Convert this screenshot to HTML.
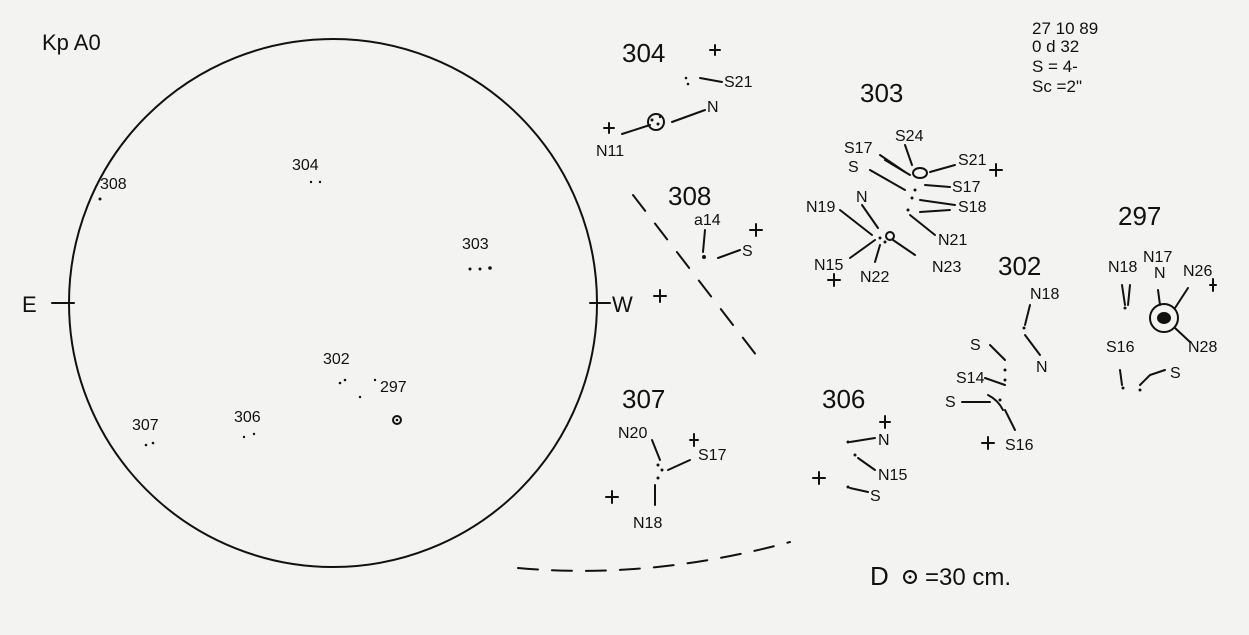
<!DOCTYPE html>
<html><head><meta charset="utf-8"><style>
html,body{margin:0;padding:0;background:#f3f3f1;}
svg{display:block}
text{font-family:"Liberation Sans",sans-serif;fill:#111;}
</style></head><body>
<svg width="1249" height="635" viewBox="0 0 1249 635" xmlns="http://www.w3.org/2000/svg">
<rect width="1249" height="635" fill="#f3f3f1"/>
<g stroke="#111" stroke-width="2" fill="none" stroke-linecap="round">
<circle cx="333" cy="303" r="264"/>
<line x1="52" y1="303" x2="74" y2="303"/>
<line x1="590" y1="303" x2="610" y2="303"/>
<path d="M633 195 L760 360" stroke-dasharray="20 16"/>
<path d="M518 568 Q650 580 790 542" stroke-dasharray="20 14"/>
<!-- 304 -->
<line x1="700" y1="78" x2="722" y2="82"/>
<line x1="672" y1="122" x2="705" y2="110"/>
<circle cx="656" cy="122" r="8"/>
<line x1="622" y1="134" x2="650" y2="125"/>
<line x1="710" y1="50" x2="720" y2="50"/><line x1="715" y1="45" x2="715" y2="55"/>
<line x1="604" y1="128" x2="614" y2="128"/><line x1="609" y1="123" x2="609" y2="133"/>
<!-- 308 -->
<line x1="705" y1="230" x2="703" y2="252"/>
<line x1="718" y1="258" x2="740" y2="250"/>
<line x1="750" y1="230" x2="762" y2="230"/><line x1="756" y1="224" x2="756" y2="236"/>
<line x1="654" y1="296" x2="666" y2="296"/><line x1="660" y1="290" x2="660" y2="302"/>
<!-- 303 -->
<line x1="880" y1="155" x2="905" y2="172"/>
<line x1="885" y1="160" x2="910" y2="175"/>
<line x1="905" y1="145" x2="912" y2="165"/>
<ellipse cx="920" cy="173" rx="7" ry="5"/>
<line x1="870" y1="170" x2="905" y2="190"/>
<line x1="930" y1="172" x2="955" y2="165"/>
<line x1="925" y1="185" x2="950" y2="187"/>
<line x1="920" y1="200" x2="955" y2="205"/>
<line x1="920" y1="212" x2="950" y2="210"/>
<line x1="910" y1="215" x2="935" y2="235"/>
<line x1="840" y1="210" x2="872" y2="235"/>
<line x1="862" y1="205" x2="878" y2="228"/>
<line x1="850" y1="258" x2="875" y2="240"/>
<line x1="875" y1="262" x2="880" y2="245"/>
<line x1="893" y1="240" x2="915" y2="255"/>
<circle cx="890" cy="236" r="4"/>
<line x1="990" y1="170" x2="1002" y2="170"/><line x1="996" y1="164" x2="996" y2="176"/>
<line x1="828" y1="280" x2="840" y2="280"/><line x1="834" y1="274" x2="834" y2="286"/>
<!-- 302 -->
<line x1="1030" y1="305" x2="1025" y2="325"/>
<line x1="1025" y1="335" x2="1040" y2="355"/>
<line x1="990" y1="345" x2="1005" y2="360"/>
<line x1="985" y1="378" x2="1005" y2="385"/>
<line x1="962" y1="402" x2="990" y2="402"/>
<path d="M988 395 Q998 400 1003 410"/>
<line x1="1005" y1="410" x2="1015" y2="430"/>
<line x1="982" y1="443" x2="994" y2="443"/><line x1="988" y1="437" x2="988" y2="449"/>
<!-- 297 -->
<line x1="1122" y1="285" x2="1125" y2="305"/>
<line x1="1130" y1="285" x2="1128" y2="305"/>
<line x1="1158" y1="290" x2="1160" y2="305"/>
<line x1="1188" y1="288" x2="1175" y2="308"/>
<circle cx="1164" cy="318" r="14"/>
<ellipse cx="1164" cy="318" rx="6" ry="5" fill="#111"/>
<line x1="1175" y1="328" x2="1190" y2="342"/>
<line x1="1210" y1="285" x2="1216" y2="285"/><line x1="1213" y1="279" x2="1213" y2="291"/>
<line x1="1120" y1="370" x2="1122" y2="385"/>
<path d="M1140 385 L1150 375 L1165 370"/>
<!-- 307 -->
<line x1="652" y1="440" x2="660" y2="460"/>
<line x1="668" y1="470" x2="690" y2="460"/>
<line x1="655" y1="485" x2="655" y2="505"/>
<line x1="690" y1="440" x2="698" y2="440"/><line x1="694" y1="434" x2="694" y2="446"/>
<line x1="606" y1="497" x2="618" y2="497"/><line x1="612" y1="491" x2="612" y2="503"/>
<!-- 306 -->
<line x1="850" y1="442" x2="875" y2="438"/>
<line x1="858" y1="458" x2="875" y2="470"/>
<line x1="850" y1="488" x2="868" y2="492"/>
<line x1="880" y1="422" x2="890" y2="422"/><line x1="885" y1="416" x2="885" y2="428"/>
<line x1="813" y1="478" x2="825" y2="478"/><line x1="819" y1="472" x2="819" y2="484"/>
<circle cx="910" cy="577" r="6"/>
<circle cx="397" cy="420" r="4"/>
</g>
<g fill="#111">
<circle cx="100" cy="199" r="1.5"/><circle cx="311" cy="182" r="1.2"/><circle cx="320" cy="182" r="1.2"/>
<circle cx="470" cy="269" r="1.5"/><circle cx="480" cy="269" r="1.5"/><circle cx="490" cy="268" r="1.8"/>
<circle cx="340" cy="383" r="1.3"/><circle cx="345" cy="380" r="1.3"/><circle cx="375" cy="380" r="1.2"/><circle cx="360" cy="397" r="1.2"/>
<circle cx="146" cy="445" r="1.3"/><circle cx="153" cy="443" r="1.3"/><circle cx="244" cy="437" r="1.2"/><circle cx="254" cy="434" r="1.2"/>
<circle cx="397" cy="420" r="1.3"/><circle cx="910" cy="577" r="1.5"/>
<circle cx="686" cy="78" r="1.3"/><circle cx="688" cy="84" r="1.3"/>
<circle cx="652" cy="120" r="1.5"/><circle cx="658" cy="124" r="1.5"/><circle cx="660" cy="117" r="1.2"/>
<circle cx="704" cy="257" r="2"/>
<circle cx="915" cy="190" r="1.5"/><circle cx="912" cy="198" r="1.5"/><circle cx="908" cy="210" r="1.5"/><circle cx="880" cy="238" r="1.5"/><circle cx="885" cy="242" r="1.5"/>
<circle cx="1024" cy="328" r="1.5"/><circle cx="1005" cy="370" r="1.5"/><circle cx="1005" cy="380" r="1.5"/><circle cx="1000" cy="400" r="1.5"/>
<circle cx="1125" cy="308" r="1.5"/><circle cx="1123" cy="388" r="1.5"/><circle cx="1140" cy="390" r="1.5"/>
<circle cx="658" cy="465" r="1.5"/><circle cx="662" cy="470" r="1.5"/><circle cx="658" cy="478" r="1.5"/>
<circle cx="848" cy="442" r="1.5"/><circle cx="855" cy="455" r="1.5"/><circle cx="848" cy="487" r="1.5"/>
</g>
<g font-size="22">
<text x="42" y="50">Kp A0</text>
<text x="22" y="312">E</text>
<text x="612" y="312">W</text>
<text x="622" y="62" font-size="26">304</text>
<text x="668" y="205" font-size="26">308</text>
<text x="860" y="102" font-size="26">303</text>
<text x="1118" y="225" font-size="26">297</text>
<text x="998" y="275" font-size="26">302</text>
<text x="622" y="408" font-size="26">307</text>
<text x="822" y="408" font-size="26">306</text>
<text x="870" y="585" font-size="26">D</text>
<text x="925" y="585" font-size="24">=30 cm.</text>
<text x="1032" y="34" font-size="17">27 10 89</text>
<text x="1032" y="52" font-size="17">0 d 32</text>
<text x="1032" y="72" font-size="17">S = 4-</text>
<text x="1032" y="92" font-size="17">Sc =2"</text>
</g>
<g font-size="16">
<text x="100" y="189">308</text><text x="292" y="170">304</text><text x="462" y="249">303</text>
<text x="323" y="364">302</text><text x="380" y="392">297</text><text x="132" y="430">307</text><text x="234" y="422">306</text>
<text x="724" y="87">S21</text><text x="707" y="112">N</text><text x="596" y="156">N11</text>
<text x="694" y="225">a14</text><text x="742" y="256">S</text>
<text x="844" y="153">S17</text><text x="895" y="141">S24</text><text x="848" y="172">S</text><text x="958" y="165">S21</text>
<text x="952" y="192">S17</text><text x="958" y="212">S18</text><text x="938" y="245">N21</text><text x="932" y="272">N23</text>
<text x="806" y="212">N19</text><text x="856" y="202">N</text><text x="814" y="270">N15</text><text x="860" y="282">N22</text>
<text x="1030" y="299">N18</text><text x="1036" y="372">N</text><text x="970" y="350">S</text><text x="956" y="383">S14</text>
<text x="945" y="407">S</text><text x="1005" y="450">S16</text>
<text x="1108" y="272">N18</text><text x="1143" y="262">N17</text><text x="1154" y="278">N</text><text x="1183" y="276">N26</text>
<text x="1188" y="352">N28</text><text x="1106" y="352">S16</text><text x="1170" y="378">S</text>
<text x="618" y="438">N20</text><text x="698" y="460">S17</text><text x="633" y="528">N18</text>
<text x="878" y="445">N</text><text x="878" y="480">N15</text><text x="870" y="501">S</text>
</g>
</svg>
</body></html>
